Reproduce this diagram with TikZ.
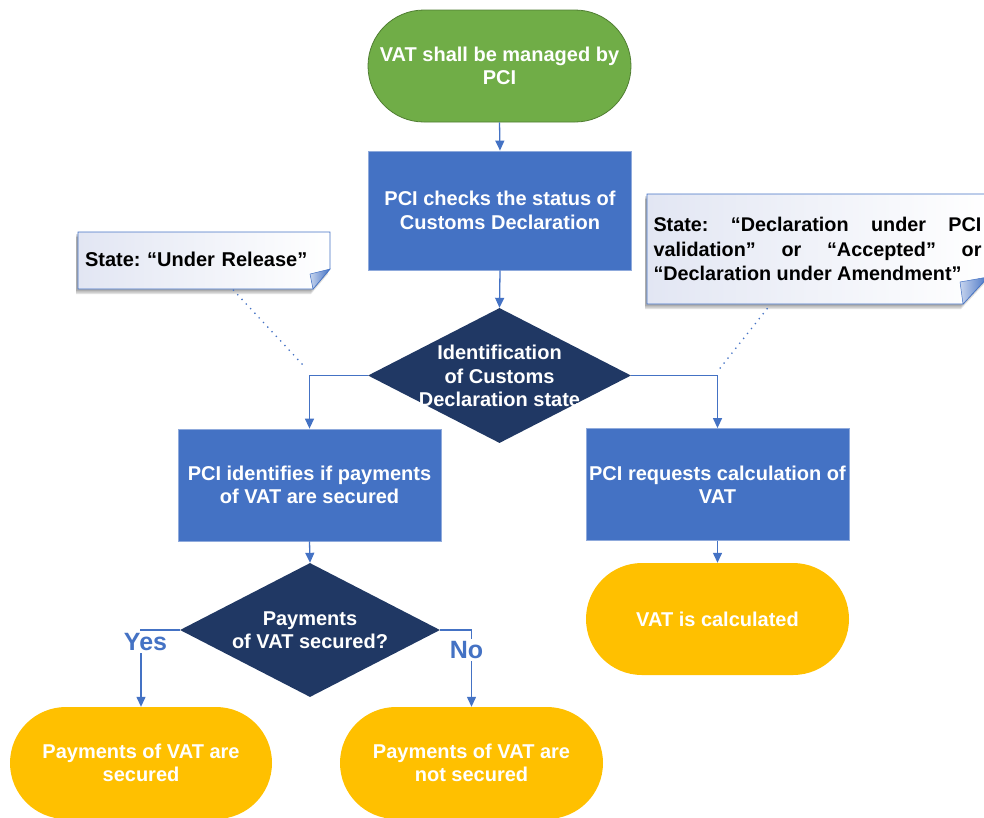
\documentclass[tikz,border=0pt]{standalone}
\usepackage{fontspec}
\setmainfont{Liberation Sans}
\usetikzlibrary{shapes.geometric,shapes.misc,arrows.meta,calc}
\definecolor{cgreen}{HTML}{70AD47}
\definecolor{cgreenb}{HTML}{507E32}
\definecolor{cblue}{HTML}{4472C4}
\definecolor{cblueb}{HTML}{8FAADC}
\definecolor{cnavy}{HTML}{203864}
\definecolor{cyellow}{HTML}{FFC000}
\definecolor{cnote}{HTML}{E2E6F3}
\frenchspacing
\begin{document}
\begin{tikzpicture}[x=1pt,y=-1pt,
  every node/.style={font=\bfseries\fontsize{20}{23.5}\selectfont, inner sep=0pt},
  term/.style={rounded rectangle, minimum width=263pt, minimum height=112pt, align=center, text=white},
  procbox/.style={rectangle, fill=cblue, draw=cblueb, line width=0.8pt, minimum width=263pt, minimum height=112pt, align=center, text=white},
  decis/.style={diamond, fill=cnavy, inner sep=0pt},
  dtext/.style={align=center, text=white},
  conn/.style={draw=cblue, line width=1.3pt, -{Triangle[length=10pt,width=9pt]}},
  lbl/.style={text=cblue, fill=white, inner sep=2pt, font=\bfseries\fontsize{25}{28}\selectfont},
  dots/.style={draw=cblue, line width=1.3pt, dash pattern=on 1.3pt off 5pt},
  notebg/.style={draw=cblue, line width=0.8pt, left color=cnote, right color=white},
  fold/.style={draw=cblue, line width=0.5pt, left color=cblueb!50!white, right color=cblue},
  shad/.style={fill=black, opacity=0.12}
]
\useasboundingbox (0,0) rectangle (984,817);
\clip (0,0) rectangle (984,817);

% ---- callout 1 ----
\foreach \s in {2,3.5,5}{
  \fill[shad] ([xshift=-2pt,yshift=-\s pt]78,232) -- ++(252,0) -- ++(0,37) -- ++(-17,20) -- ++(-235,0) -- cycle;}
\path[notebg] (78,232) -- (330,232) -- (330,269) -- (313,289) -- (78,289) -- cycle;
\path[fold] (330,269) -- (313,289) -- (310,274) -- cycle;
\node[minimum width=252pt, minimum height=57pt, text width=238pt, align=left] (note1) at (204,259) {State: “Under Release”};

% ---- callout 2 ----
\foreach \s in {2,3.5,5}{
  \fill[shad] ([xshift=-2pt,yshift=-\s pt]647,194) -- ++(341,0) -- ++(0,83) -- ++(-25,27) -- ++(-316,0) -- cycle;}
\path[notebg] (647,194) -- (988,194) -- (988,277) -- (963,304) -- (647,304) -- cycle;
\path[fold] (988,277) -- (963,304) -- (960,282) -- cycle;
\node[minimum width=341pt, minimum height=110pt, text width=328pt, align=justify,
      font=\bfseries\fontsize{19.8}{24.5}\selectfont] (note2) at (817.5,249)
  {State: “Declaration under PCI\linebreak validation” or “Accepted” or\linebreak “Declaration under Amendment”};

% ---- main nodes ----
\node[term, fill=cgreen, draw=cgreenb, line width=0.8pt] (start) at (499.5,66) {VAT shall be managed by\\PCI};
\node[procbox, minimum height=119pt] (check) at (500,210.5) {PCI checks the status of\\Customs Declaration};
\node[decis, minimum width=263pt, minimum height=135pt] (dec1) at (499.5,375.5) {};
\node[dtext] (dec1t) at (499.5,376) {Identification\\of Customs\\Declaration state};
\node[procbox] (idpay) at (309.5,485) {PCI identifies if payments\\of VAT are secured};
\node[procbox] (reqcalc) at (717.5,484.5) {PCI requests calculation of\\VAT};
\node[decis, minimum width=260pt, minimum height=134pt] (dec2) at (310,630) {};
\node[dtext] (dec2t) at (310,630) {Payments\\of VAT secured?};
\node[term, fill=cyellow] (calc) at (717.5,619) {VAT is calculated};
\node[term, fill=cyellow, minimum width=262pt] (yesterm) at (141,763) {Payments of VAT are\\secured};
\node[term, fill=cyellow] (noterm) at (471.5,763) {Payments of VAT are\\not secured};

% ---- connectors ----
\draw[conn] (start.south) -- (check.north);
\draw[conn] (check.south) -- (dec1.north);
\draw[conn] (dec1.west) -| (idpay.north);
\draw[conn] (dec1.east) -| (reqcalc.north);
\draw[conn] (idpay.south) -- (dec2.north);
\draw[conn] (reqcalc.south) -- (calc.north);
\draw[conn] (dec2.west) -| (yesterm.north);
\draw[conn] (dec2.east) -| (noterm.north);
\node[lbl] (yes) at (145.5,642) {Yes};
\node[lbl] (no) at (466.5,650) {No};

% ---- dotted note links ----
\coordinate (n1tail) at (303,365);
\coordinate (n2tail) at (717,372);
\draw[dots] ([xshift=29pt,yshift=-2pt]note1.south) -- (n1tail);
\draw[dots] ([xshift=-50pt,yshift=-4pt]note2.south) -- (n2tail);
\end{tikzpicture}
\end{document}
